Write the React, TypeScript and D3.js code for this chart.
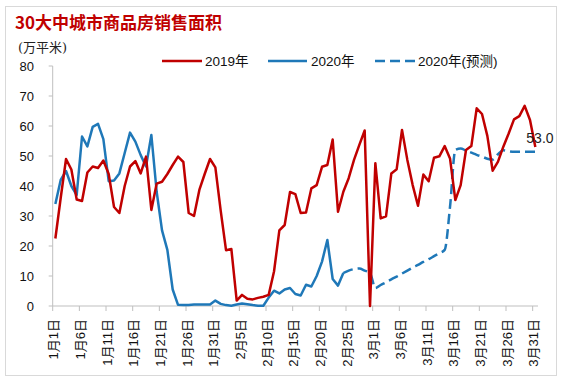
import React from "react";
import * as d3 from "d3";

const W = 564;
const H = 383;

const title = "30大中城市商品房销售面积";
const unitLabel = "(万平米)";
const seriesNames = ["2019年", "2020年", "2020年(预测)"];

const yTicks = [0, 10, 20, 30, 40, 50, 60, 70, 80];
const xTickLabels = [
  "1月1日", "1月6日", "1月11日", "1月16日", "1月21日", "1月26日", "1月31日",
  "2月5日", "2月10日", "2月15日", "2月20日", "2月25日",
  "3月1日", "3月6日", "3月11日", "3月16日", "3月21日", "3月26日", "3月31日",
];

// 91 daily categories: 2020-01-01 .. 2020-03-31
const days = d3.timeDay.range(new Date(2020, 0, 1), new Date(2020, 3, 1));

const sales2019: number[] = [
  22.5, 36, 49, 45.5, 35.5, 35, 44.5, 46.5, 46, 48.5,
  44, 33, 31, 40, 46.5, 48.3, 44.2, 49.8, 32, 40.8,
  41.4, 44, 47, 49.8, 48, 31, 30, 38.7, 44, 49,
  46.2, 31.8, 18.6, 19, 1.8, 3.7, 2.4, 2.2, 2.7, 3.1,
  3.7, 11.5, 25.2, 27, 38, 37.3, 31, 31.2, 39.2, 40.3,
  46.4, 47, 55.5, 31.4, 38.1, 42.6, 48.7, 53.7, 58.5, 0,
  47.6, 29.2, 29.9, 44.2, 45.6, 58.7, 48.7, 40.3, 33.4, 43.8,
  41.6, 49.4, 49.9, 53.3, 49.2, 35.3, 40.3, 52, 53.3, 65.9,
  64, 56.7, 45.1, 48.1, 53.1, 57.5, 62.2, 63.3, 66.7, 62,
  53,
];

const sales2020: (number | null)[] = [
  34, 42, 45, 40, 37, 56.5, 53.2, 59.7, 60.7, 55.6,
  41.6, 41.8, 44.2, 51, 57.8, 54.8, 50.3, 46.5, 57, 38,
  25.2, 18.7, 5.5, 0.4, 0.3, 0.3, 0.5, 0.5, 0.5, 0.5,
  1.8, 0.7, 0.3, 0.1, 0.5, 0.8, 0.6, 0.3, 0.1, 0.1,
  2.8, 5.1, 4.2, 5.5, 6, 4, 3.5, 7.1, 6.5, 10,
  14.8, 22, 9, 6.8, 11,
];

const forecast2020: (number | null)[] = [
  ...Array(54).fill(null),
  11, 11.8, 12.3, 12.5, 11.8, 11, 6, 7, 7.9, 8.9,
  9.8, 10.8, 11.8, 12.8, 13.7, 14.7, 15.6, 16.6, 17.6, 18.7,
  33, 52, 52.5, 51.8, 51.1, 50.4, 49.8, 49.1, 48.8, 50.6,
  51.9, 51.6, 51.4, 51.4, 51.4, 51.4, 51.4,
];

const RED = "#C00000";
const BLUE = "#1F78B8";
const AXIS = "#BFBFBF";
const FONT = "'Liberation Sans', Arial, 'Noto Sans CJK SC', sans-serif";

export default function App() {
  const n = days.length;
  const x = d3.scaleLinear().domain([0, n]).range([52.7, 538]);
  const y = d3.scaleLinear().domain([0, 80]).range([306, 66]);

  const mk = (curve: d3.CurveFactory) =>
    d3
      .line<number | null>()
      .defined((d) => d != null)
      .x((_, i) => x(i + 0.5))
      .y((d) => y(d as number))
      .curve(curve);

  const linePath = mk(d3.curveLinear);
  const smoothPath = mk(d3.curveMonotoneX);

  const tickIdx = xTickLabels.map((_, k) => k * 5);
  const last = sales2019[sales2019.length - 1];

  return (
    <svg
      width={W}
      height={H}
      style={{ position: "absolute", left: 0, top: 0, background: "#fff" }}
    >
      <rect x={5.5} y={6.5} width={551} height={369} fill="#fff" stroke="#D9D9D9" />
      <text x={15} y={29} fill={RED} fontSize={17} fontWeight={700}
        fontFamily="'Noto Sans CJK SC', sans-serif">{title}</text>
      <text x={18} y={52} fill="#222" fontSize={13}
        fontFamily="'DejaVu Serif', 'Noto Sans CJK SC', serif">{unitLabel}</text>

      {/* legend */}
      <g fontFamily={FONT} fontSize={13.5} fill="#111">
        <line x1={162} x2={202} y1={61} y2={61} stroke={RED} strokeWidth={2.5} />
        <text x={205} y={66}>{seriesNames[0]}</text>
        <line x1={268} x2={307} y1={61} y2={61} stroke={BLUE} strokeWidth={2.5} />
        <text x={311} y={66}>{seriesNames[1]}</text>
        <line x1={375} x2={415} y1={61} y2={61} stroke={BLUE} strokeWidth={2.5} strokeDasharray="10,5" />
        <text x={418} y={66}>{seriesNames[2]}</text>
      </g>

      {/* y axis */}
      <line x1={x(0)} x2={x(0)} y1={y(80)} y2={y(0)} stroke={AXIS} />
      {yTicks.map((t) => (
        <g key={t}>
          <line x1={x(0) - 4} x2={x(0)} y1={y(t)} y2={y(t)} stroke={AXIS} />
          <text x={34} y={y(t)} dy="0.36em" textAnchor="end" fontSize={13}
            fontFamily={FONT} fill="#111">{t}</text>
        </g>
      ))}

      {/* x axis */}
      <line x1={x(0)} x2={x(n)} y1={y(0)} y2={y(0)} stroke={AXIS} />
      {tickIdx.map((i, k) => (
        <g key={i}>
          <line x1={x(i)} x2={x(i)} y1={y(0)} y2={y(0) + 5} stroke={AXIS} />
          <text transform={`translate(${x(i) + 1},${319}) rotate(-90)`} dy="0.36em"
            textAnchor="end" fontSize={13} fontFamily={FONT} fill="#111">
            {xTickLabels[k]}
          </text>
        </g>
      ))}

      {/* series */}
      <path d={smoothPath(forecast2020) || ""} fill="none" stroke={BLUE} strokeWidth={2.5}
        strokeDasharray="10,5" />
      <path d={linePath(sales2020) || ""} fill="none" stroke={BLUE} strokeWidth={2.5}
        strokeLinejoin="round" />
      <path d={linePath(sales2019) || ""} fill="none" stroke={RED} strokeWidth={2.5}
        strokeLinejoin="round" />

      <text x={x(n - 0.5) - 9} y={y(last) - 4} fontSize={14} fontFamily={FONT} fill="#222">
        {d3.format(".1f")(last)}
      </text>
    </svg>
  );
}
